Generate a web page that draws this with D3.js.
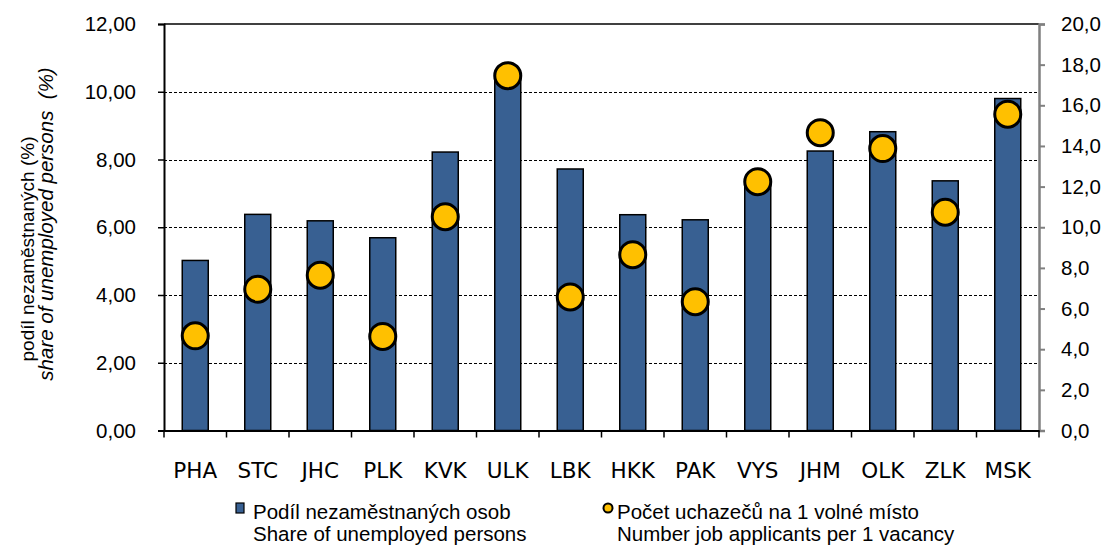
<!DOCTYPE html>
<html><head><meta charset="utf-8">
<script src="https://cdn.jsdelivr.net/npm/d3@7"></script>
<style>body{margin:0;background:#fff}svg{display:block}</style>
</head><body>
<svg id="c" width="1106" height="545"></svg>
<script>
const categories = ["PHA","STC","JHC","PLK","KVK","ULK","LBK","HKK","PAK","VYS","JHM","OLK","ZLK","MSK"];
const shareUnemployed = [5.02,6.38,6.19,5.69,8.22,10.35,7.72,6.37,6.22,7.25,8.25,8.82,7.37,9.80];
const applicantsPerVacancy = [4.66,6.95,7.64,4.63,10.52,17.46,6.57,8.65,6.34,12.24,14.65,13.87,10.74,15.56];
const leftTicks = [0,2,4,6,8,10,12];
const rightTicks = [0,2,4,6,8,10,12,14,16,18,20];
const legendBar = ["Podíl nezaměstnaných osob","Share of unemployed persons"];
const legendDot = ["Počet uchazečů na 1 volné místo","Number job applicants per 1 vacancy"];
const titleLines = ["podíl nezaměstnaných (%)","share of unemployed persons\u00a0\u00a0(%)"];

const svg = d3.select("#c");
const L=164, R=1039, T=24, B=430.5;
const x = d3.scaleBand().domain(categories).range([L,R]).paddingInner(0).paddingOuter(0);
const yL = d3.scaleLinear().domain([0,12]).range([B,T]);
const yR = d3.scaleLinear().domain([0,20]).range([B,T]);
const comma = f => v => d3.format(f)(v).replace(".",",");
const font = "'Liberation Sans', Arial, sans-serif";

// gridlines
svg.append("g").selectAll("line").data(leftTicks.filter(t=>t>0&&t<12)).join("line")
  .attr("x1",L).attr("x2",R).attr("y1",d=>Math.round(yL(d))+0.5).attr("y2",d=>Math.round(yL(d))+0.5)
  .attr("stroke","#000").attr("stroke-width",1).attr("stroke-dasharray","3,2");
svg.append("line").attr("x1",L).attr("x2",R).attr("y1",yL(12)).attr("y2",yL(12))
  .attr("stroke","#000").attr("stroke-width",1.5);

// bars
const bw = 26;
svg.append("g").selectAll("rect").data(shareUnemployed).join("rect")
  .attr("x",(d,i)=>x(categories[i])+x.bandwidth()/2-bw/2)
  .attr("y",d=>yL(d)).attr("width",bw).attr("height",d=>B-yL(d))
  .attr("fill","#386092").attr("stroke","#000").attr("stroke-width",1.5);

// left axis
const gL = svg.append("g").attr("transform",`translate(${L},0)`)
  .call(d3.axisLeft(yL).tickValues(leftTicks).tickFormat(comma(".2f")).tickSize(6).tickPadding(22));
gL.select(".domain").attr("stroke","#000").attr("stroke-width",2);
gL.selectAll(".tick line").attr("stroke","#000").attr("stroke-width",1.5);
gL.selectAll("text").attr("font-family",font).attr("font-size",20.5).attr("fill","#000");

// right axis
const gR = svg.append("g").attr("transform",`translate(${R},0)`)
  .call(d3.axisRight(yR).tickValues(rightTicks).tickFormat(comma(".1f")).tickSize(6).tickPadding(16));
gR.select(".domain").attr("stroke","#808080").attr("stroke-width",2.5);
gR.selectAll(".tick line").attr("stroke","#808080").attr("stroke-width",2);
gR.selectAll("text").attr("font-family",font).attr("font-size",20.5).attr("fill","#000");

// bottom axis
const gB = svg.append("g").attr("transform",`translate(0,${B})`)
  .call(d3.axisBottom(x).tickSize(0).tickPadding(0));
gB.select(".domain").attr("stroke","#000").attr("stroke-width",2);
gB.selectAll("text").attr("font-family","'DejaVu Sans', sans-serif").attr("font-size",21.5).attr("fill","#000")
  .attr("dy",0).attr("y",47);
svg.append("g").selectAll("line").data(d3.range(categories.length+1)).join("line")
  .attr("x1",i=>L+i*x.step()).attr("x2",i=>L+i*x.step()).attr("y1",B).attr("y2",B+7)
  .attr("stroke","#000").attr("stroke-width",1.5);

// points
svg.append("g").selectAll("circle").data(applicantsPerVacancy).join("circle")
  .attr("cx",(d,i)=>x(categories[i])+x.bandwidth()/2).attr("cy",d=>yR(d)).attr("r",13)
  .attr("fill","#FFC000").attr("stroke","#000").attr("stroke-width",3);

// y title
svg.append("text").attr("font-family",font).attr("font-size",19).attr("text-anchor","middle")
  .attr("transform","translate(34,249) rotate(-90)").text(titleLines[0]);
svg.append("text").attr("font-family",font).attr("font-size",20.5).attr("text-anchor","middle")
  .attr("font-style","italic")
  .attr("transform","translate(53,224) rotate(-90)").text(titleLines[1]);

// legend
const lg = svg.append("g").attr("font-family",font).attr("font-size",20.5).attr("fill","#000");
lg.append("rect").attr("x",236).attr("y",503).attr("width",8).attr("height",10)
  .attr("fill","#386092").attr("stroke","#000").attr("stroke-width",1.2);
lg.selectAll("text.a").data(legendBar).join("text").attr("class","a")
  .attr("x",253).attr("y",(d,i)=>519+i*22).text(d=>d);
lg.append("circle").attr("cx",608).attr("cy",508).attr("r",4.5)
  .attr("fill","#FFC000").attr("stroke","#000").attr("stroke-width",2);
lg.selectAll("text.b").data(legendDot).join("text").attr("class","b")
  .attr("x",617).attr("y",(d,i)=>519+i*22).text(d=>d);
</script>
</body></html>
